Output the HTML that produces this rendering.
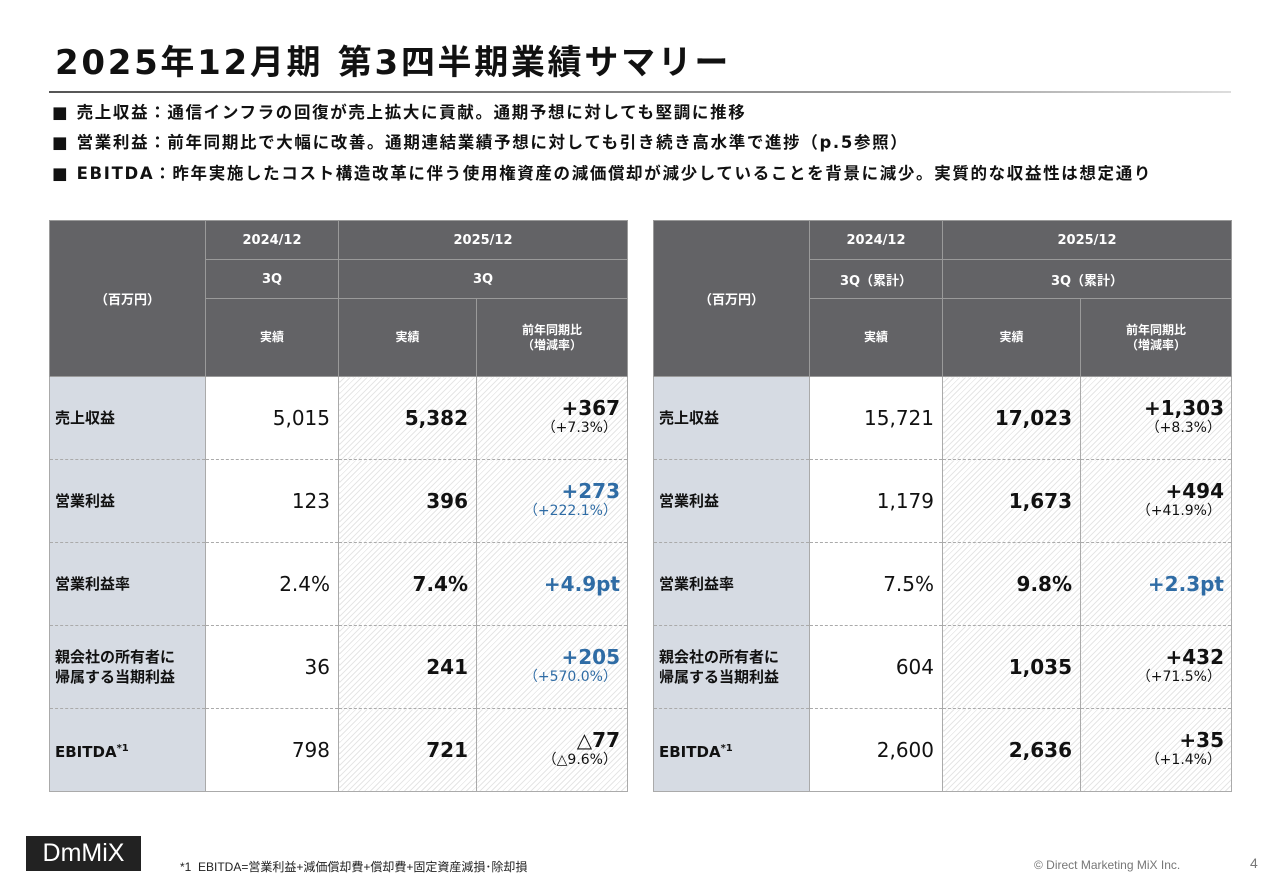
<!DOCTYPE html>
<html><head><meta charset="utf-8">
<style>
*{margin:0;padding:0;box-sizing:border-box}
body{width:1280px;height:886px;background:#fff;font-family:"DejaVu Sans","Noto Sans CJK JP",sans-serif;position:relative;overflow:hidden;color:#111}
.title{position:absolute;left:55px;top:35px;font-size:34px;font-weight:bold;letter-spacing:2.7px;white-space:nowrap}
.rule{position:absolute;left:49px;top:91px;width:1182px;height:2px;background:linear-gradient(90deg,#555,#999 70%,#ddd)}
.b{position:absolute;left:52px;font-size:16.5px;font-weight:bold;white-space:nowrap;letter-spacing:1.65px}
table{position:absolute;top:220px;border-collapse:collapse;table-layout:fixed}
td{border:1px solid #aaa;font-size:15px}
.h{background:#636366;color:#fff;font-weight:bold;text-align:center;font-size:13px;border-color:#9a9a9a}
.h.small{font-size:12px;line-height:15px}
.lab{background:#d6dbe3;font-weight:bold;font-size:15px;padding-left:5px;line-height:20px}
.v{text-align:right;padding-right:8px;font-size:20px}
.hat{background:repeating-linear-gradient(135deg,#fff 0,#fff 3px,#e6e6e6 3px,#e6e6e6 4px)}
.bold{font-weight:bold}
.d{text-align:right;padding-right:7px;line-height:20px}
.d .m{font-size:20px;font-weight:bold;display:block}
.d .p{font-size:14px;display:block;padding-right:3px}
.blue{color:#2f6ca5}
tr.data td{border-top:1px dashed #aaa;border-bottom:1px dashed #aaa;height:83px}
tr.last td{border-bottom:1px solid #aaa}
sup{font-size:10px}
.foot{position:absolute;top:858px;font-size:12px;color:#222;font-family:"Liberation Sans","Noto Sans CJK JP",sans-serif}
</style></head><body>
<div class="title">2025年12月期 第3四半期業績サマリー</div>
<div class="rule"></div>
<div class="b" style="top:99px">■ 売上収益：通信インフラの回復が売上拡大に貢献。通期予想に対しても堅調に推移</div>
<div class="b" style="top:129px">■ 営業利益：前年同期比で大幅に改善。通期連結業績予想に対しても引き続き高水準で進捗（p.5参照）</div>
<div class="b" style="top:160px">■ EBITDA：昨年実施したコスト構造改革に伴う使用権資産の減価償却が減少していることを背景に減少。実質的な収益性は想定通り</div>

<table style="left:49px;width:578px">
<colgroup><col style="width:156px"><col style="width:133px"><col style="width:138px"><col style="width:151px"></colgroup>
<tr style="height:39px"><td class="h" rowspan="3">（百万円）</td><td class="h">2024/12</td><td class="h" colspan="2">2025/12</td></tr>
<tr style="height:39px"><td class="h">3Q</td><td class="h" colspan="2">3Q</td></tr>
<tr style="height:78px"><td class="h small">実績</td><td class="h small">実績</td><td class="h small">前年同期比<br>（増減率）</td></tr>
<tr class="data"><td class="lab">売上収益</td><td class="v">5,015</td><td class="v hat bold">5,382</td><td class="d hat"><span class="m">+367</span><span class="p">（+7.3%）</span></td></tr>
<tr class="data"><td class="lab">営業利益</td><td class="v">123</td><td class="v hat bold">396</td><td class="d hat blue"><span class="m">+273</span><span class="p">（+222.1%）</span></td></tr>
<tr class="data"><td class="lab">営業利益率</td><td class="v">2.4%</td><td class="v hat bold">7.4%</td><td class="d hat blue"><span class="m">+4.9pt</span></td></tr>
<tr class="data"><td class="lab">親会社の所有者に<br>帰属する当期利益</td><td class="v">36</td><td class="v hat bold">241</td><td class="d hat blue"><span class="m">+205</span><span class="p">（+570.0%）</span></td></tr>
<tr class="data last"><td class="lab">EBITDA<sup>*1</sup></td><td class="v">798</td><td class="v hat bold">721</td><td class="d hat"><span class="m">△77</span><span class="p">（△9.6%）</span></td></tr>
</table>

<table style="left:653px;width:578px">
<colgroup><col style="width:156px"><col style="width:133px"><col style="width:138px"><col style="width:151px"></colgroup>
<tr style="height:39px"><td class="h" rowspan="3">（百万円）</td><td class="h">2024/12</td><td class="h" colspan="2">2025/12</td></tr>
<tr style="height:39px"><td class="h">3Q（累計）</td><td class="h" colspan="2">3Q（累計）</td></tr>
<tr style="height:78px"><td class="h small">実績</td><td class="h small">実績</td><td class="h small">前年同期比<br>（増減率）</td></tr>
<tr class="data"><td class="lab">売上収益</td><td class="v">15,721</td><td class="v hat bold">17,023</td><td class="d hat"><span class="m">+1,303</span><span class="p">（+8.3%）</span></td></tr>
<tr class="data"><td class="lab">営業利益</td><td class="v">1,179</td><td class="v hat bold">1,673</td><td class="d hat"><span class="m">+494</span><span class="p">（+41.9%）</span></td></tr>
<tr class="data"><td class="lab">営業利益率</td><td class="v">7.5%</td><td class="v hat bold">9.8%</td><td class="d hat blue"><span class="m">+2.3pt</span></td></tr>
<tr class="data"><td class="lab">親会社の所有者に<br>帰属する当期利益</td><td class="v">604</td><td class="v hat bold">1,035</td><td class="d hat"><span class="m">+432</span><span class="p">（+71.5%）</span></td></tr>
<tr class="data last"><td class="lab">EBITDA<sup>*1</sup></td><td class="v">2,600</td><td class="v hat bold">2,636</td><td class="d hat"><span class="m">+35</span><span class="p">（+1.4%）</span></td></tr>
</table>

<div style="position:absolute;left:26px;top:836px;width:115px;height:35px;background:#222;color:#fff;font-size:25px;line-height:35px;text-align:center;font-family:'Liberation Sans Narrow','Liberation Sans',sans-serif">DmMiX</div>
<div class="foot" style="left:180px">*1&nbsp; EBITDA=営業利益+減価償却費+償却費+固定資産減損･除却損</div>
<div class="foot" style="left:1034px;color:#777">© Direct Marketing MiX Inc.</div>
<div class="foot" style="left:1250px;color:#777;font-size:14px;top:855px">4</div>
</body></html>
